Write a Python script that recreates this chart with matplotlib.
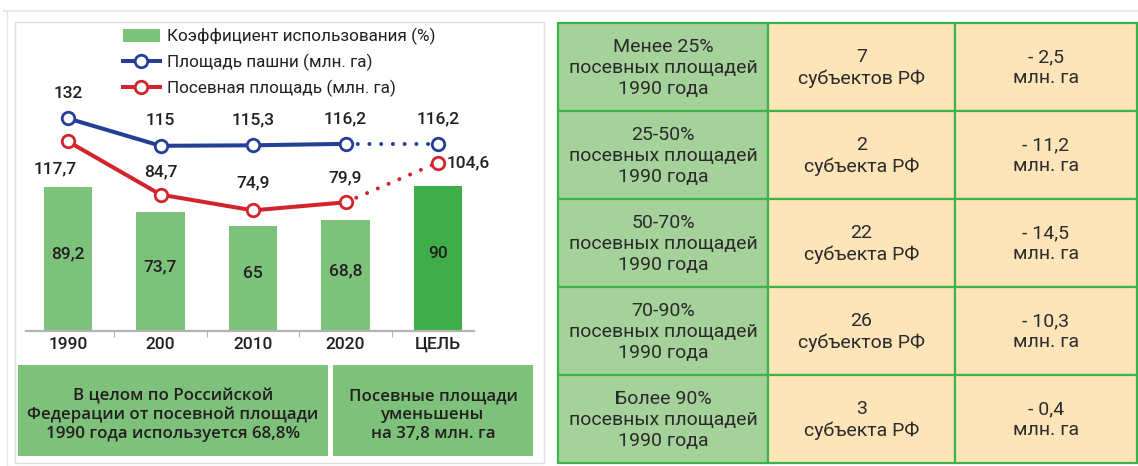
import matplotlib
matplotlib.use('Agg')
import matplotlib.pyplot as plt
from matplotlib.patches import Rectangle, Patch
from matplotlib.lines import Line2D

# ---------------- data ----------------
categories = ['1990', '200', '2010', '2020', 'ЦЕЛЬ']
usage_pct = [89.2, 73.7, 65, 68.8, 90]
arable_area = [132, 115, 115.3, 116.2, 116.2]
sown_area = [117.7, 84.7, 74.9, 79.9, 104.6]
usage_labels = ['89,2', '73,7', '65', '68,8', '90']
arable_labels = ['132', '115', '115,3', '116,2', '116,2']
sown_labels = ['117,7', '84,7', '74,9', '79,9', '104,6']
legend_labels = ['Коэффициент использования (%)',
                 'Площадь пашни (млн. га)',
                 'Посевная площадь (млн. га)']
summary_texts = ['В целом по Российской\nФедерации от посевной площади\n1990 года используется 68,8%',
                 'Посевные площади\nуменьшены\nна 37,8 млн. га']
table_groups = ['Менее 25%\nпосевных площадей\n1990 года',
                '25-50%\nпосевных площадей\n1990 года',
                '50-70%\nпосевных площадей\n1990 года',
                '70-90%\nпосевных площадей\n1990 года',
                'Более 90%\nпосевных площадей\n1990 года']
table_subjects = ['7\nсубъектов РФ', '2\nсубъекта РФ', '22\nсубъекта РФ',
                  '26\nсубъектов РФ', '3\nсубъекта РФ']
table_losses = ['- 2,5\nмлн. га', '- 11,2\nмлн. га', '- 14,5\nмлн. га',
                '- 10,3\nмлн. га', '- 0,4\nмлн. га']

# ---------------- style ----------------
W, H = 1138, 466
BAR = '#7dc27b'
BAR_TARGET = '#3fae49'
BLUE = '#233f96'
RED = '#d3242c'
TXT = '#231f20'
LBL = ['Roboto', 'Liberation Sans', 'DejaVu Sans']
REG = ['Roboto', 'Liberation Sans', 'DejaVu Sans']
BOXF = ['Open Sans', 'DejaVu Sans']
PX = 0.72  # points per pixel at dpi 100


def rect(x0, y0, x1, y1):
    return [x0 / W, 1 - y1 / H, (x1 - x0) / W, (y1 - y0) / H]


fig = plt.figure(figsize=(W / 100, H / 100), dpi=100)
fig.patch.set_facecolor('white')

# frame lines
fig.add_artist(Line2D([4 / W, 1], [1 - 11 / H] * 2, color='#e9e9e9', lw=1.6))
fig.add_artist(Line2D([6.5 / W] * 2, [1 - 11 / H, 0], color='#e4e4e4', lw=1.0))
fig.add_artist(Rectangle((15 / W, 1 - 463 / H), (544 - 15) / W, (463 - 22) / H,
                         fill=False, ec='#dedede', lw=1.0, transform=fig.transFigure))

# ---------------- chart ----------------
ax = fig.add_axes(rect(26, 25, 474, 331))
ax.set_xlim(-0.454, 4.389)
ax.set_ylim(0, 190)
ax.patch.set_alpha(0)
x = list(range(len(categories)))
bar_colors = [BAR] * (len(categories) - 1) + [BAR_TARGET]
ax.bar(x, usage_pct, width=0.52, color=bar_colors, zorder=2)
for xi, v, lab in zip(x, usage_pct, usage_labels):
    ax.text(xi, v / 2 + 3, lab, ha='center', va='center', fontsize=12.5,
            family=LBL, weight='medium', color=TXT, zorder=5)

n = len(categories) - 1
for vals, col in ((arable_area, BLUE), (sown_area, RED)):
    ax.plot(x[:n], vals[:n], color=col, lw=2.9, zorder=3, solid_capstyle='round')
    ax.plot(x[n - 1:], vals[n - 1:], color=col, lw=2.9, ls=(0, (0.01, 2.9)),
            dash_capstyle='round', zorder=3)
    ax.plot(x, vals, ls='none', marker='o', ms=9, mfc='white', mec=col, mew=2,
            zorder=4)

for xi, v, lab in zip(x, arable_area, arable_labels):
    ax.annotate(lab, (xi, v), xytext=(0, 25 * PX), textcoords='offset points',
                ha='center', va='center', fontsize=12.5, family=LBL,
                weight='medium', color=TXT)

sown_offsets = [(-13, -27), (0, 23), (0, 27), (0, 24), (9, 0)]
sown_ha = ['center', 'center', 'center', 'center', 'left']
for xi, v, lab, (dx, dy), ha in zip(x, sown_area, sown_labels, sown_offsets, sown_ha):
    ax.annotate(lab, (xi, v), xytext=(dx * PX, dy * PX), textcoords='offset points',
                ha=ha, va='center', fontsize=12.5, family=LBL, weight='medium',
                color=TXT)

for s in ('top', 'right', 'left'):
    ax.spines[s].set_visible(False)
ax.spines['bottom'].set_color('#b3b3b3')
ax.spines['bottom'].set_linewidth(1.6)
ax.set_yticks([])
ax.set_xticks(x)
ax.set_xticklabels(categories, family=LBL, fontsize=12.5, weight='medium', color=TXT)
ax.tick_params(axis='x', which='major', length=0, pad=4)
ax.set_xticks([i + 0.5 for i in x[:-1]], minor=True)
ax.tick_params(axis='x', which='minor', length=4, width=0.8, color='#b3b3b3')

handles = [Patch(facecolor=BAR, edgecolor='none'),
           Line2D([], [], color=BLUE, lw=2.9, marker='o', ms=9, mfc='white', mec=BLUE, mew=2),
           Line2D([], [], color=RED, lw=2.9, marker='o', ms=9, mfc='white', mec=RED, mew=2)]
leg = ax.legend(handles, legend_labels, loc='upper left',
                bbox_to_anchor=(123 / W, 1 - 28 / H), bbox_transform=fig.transFigure,
                frameon=False, prop={'family': REG, 'size': 12.3},
                handlelength=2.15, handleheight=0.8, handletextpad=0.45,
                labelspacing=0.5, borderpad=0, borderaxespad=0)
for t in leg.get_texts():
    t.set_color(TXT)

# ---------------- summary boxes ----------------
boxes = [(18, 365, 328, 456), (333, 365, 533, 456)]
for (x0, y0, x1, y1), txt in zip(boxes, summary_texts):
    fig.add_artist(Rectangle((x0 / W, 1 - y1 / H), (x1 - x0) / W, (y1 - y0) / H,
                             fc='#7dc17a', ec='none', transform=fig.transFigure))
    fig.text((x0 + x1) / 2 / W, 1 - 415 / H, txt, ha='center', va='center',
             fontsize=12.2, family=BOXF, weight='semibold', color=TXT,
             linespacing=1.22)

# ---------------- table ----------------
tab = fig.add_axes(rect(558, 23, 1137, 463))
tab.set_xlim(0, 579)
tab.set_ylim(440, 0)
tab.axis('off')
col_edges = [0, 210, 397, 579]
row_h = 440 / len(table_groups)
col_fill = ['#a5d19a', '#fee4b9', '#fee4b9']
for r, row in enumerate(zip(table_groups, table_subjects, table_losses)):
    for c, txt in enumerate(row):
        x0, x1 = col_edges[c], col_edges[c + 1]
        y0 = r * row_h
        tab.add_patch(Rectangle((x0, y0), x1 - x0, row_h, fc=col_fill[c],
                                ec='#3cb44a', lw=1.6, clip_on=False))
        tab.text((x0 + x1) / 2, y0 + row_h / 2 + 1, txt, ha='center', va='center',
                 fontsize=14, family=['Roboto', 'DejaVu Sans'], color='#2b2b2b',
                 linespacing=1.2)

fig.savefig('out.png', dpi=100, facecolor='white')
